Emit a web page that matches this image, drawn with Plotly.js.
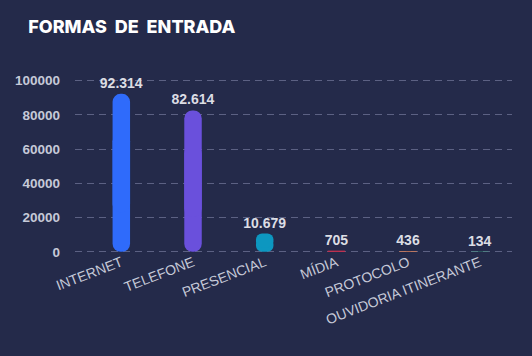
<!DOCTYPE html>
<html>
<head>
<meta charset="utf-8">
<script src="https://cdn.plot.ly/plotly-3.0.1.min.js"></script>
<style>
html,body{margin:0;padding:0;background:#242a4a;}
#chart{width:532px;height:356px;}
</style>
</head>
<body>
<div id="chart"></div>
<script>
const categories = ["INTERNET", "TELEFONE", "PRESENCIAL", "MÍDIA", "PROTOCOLO", "OUVIDORIA ITINERANTE"];
const values = [92314, 82614, 10679, 705, 436, 134];
const barColors = ["#2f6bfb", "#6a50dc", "#0d97c0", "#c4304f", "#d07c5a", "#3bb58a"];
const yTicks = [0, 20000, 40000, 60000, 80000, 100000];

// two overlapping pieces per bar so both ends get rounded
const lowerLen = values.map(v => v * 0.75);
const upperBase = values.map(v => v * 0.25);
const upperLen = values.map(v => v * 0.75);

const common = {
  type: "bar",
  x: categories,
  width: 0.244,
  marker: {color: barColors, cornerradius: "50%", line: {width: 0}},
  hoverinfo: "skip",
  showlegend: false,
  constraintext: "none"
};

const lower = Object.assign({}, common, {base: 0, y: lowerLen, textposition: "none"});
const upper = Object.assign({}, common, {
  base: upperBase,
  y: upperLen,
  customdata: values,
  texttemplate: "%{customdata:,}",
  textposition: "outside",
  cliponaxis: false,
  textfont: {family: "Liberation Sans, Arial, sans-serif", size: 14, color: "#dcdde4", weight: "bold"}
});

const layout = {
  width: 532, height: 356,
  paper_bgcolor: "#242a4a",
  plot_bgcolor: "#242a4a",
  separators: ",.",
  barmode: "overlay",
  margin: {l: 75, r: 20, t: 67, b: 99},
  title: {
    text: "FORMAS  DE  ENTRADA",
    x: 0.053, xanchor: "left", xref: "container",
    y: 0.925, yanchor: "middle", yref: "container",
    font: {family: "Inter, Lato, sans-serif", size: 18, color: "#ffffff", weight: 800}
  },
  xaxis: {
    type: "category",
    range: [-0.646, 5.449],
    tickangle: -21,
    showgrid: false, zeroline: false, showline: false, ticks: "",
    ticklabelstandoff: -6,
    tickfont: {family: "Liberation Sans, Arial, sans-serif", size: 14, color: "#c6c9d8"}
  },
  yaxis: {
    range: [-3000, 108000],
    tickvals: yTicks,
    tickformat: "d",
    showgrid: true,
    gridcolor: "#5c6183",
    griddash: "7px,5px",
    gridwidth: 1,
    zeroline: false, showline: false, ticks: "",
    ticklabelstandoff: 14,
    tickfont: {family: "Liberation Sans, Arial, sans-serif", size: 13.5, color: "#c6c9d8", weight: "bold"}
  }
};

Plotly.newPlot("chart", [lower, upper], layout, {displayModeBar: false, staticPlot: true});
</script>
</body>
</html>
